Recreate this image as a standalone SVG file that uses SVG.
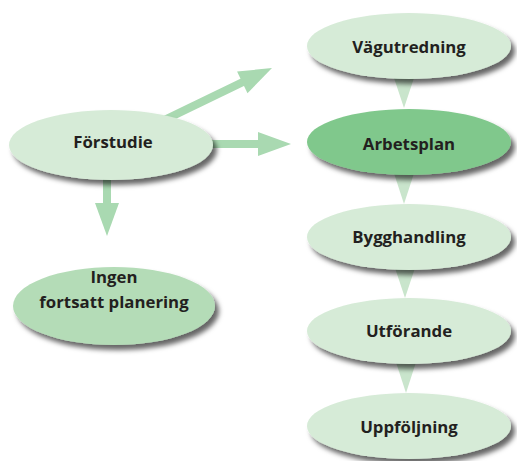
<svg xmlns="http://www.w3.org/2000/svg" width="517" height="461" viewBox="0 0 517 461">
<defs>
<filter id="sh" x="-20%" y="-30%" width="150%" height="180%">
<feDropShadow dx="4" dy="5" stdDeviation="2.8" flood-color="#000" flood-opacity="0.6"/>
</filter>
<style>
.lt{fill:#d6ebd7;filter:url(#sh)}
.dk{fill:#80c88c;filter:url(#sh)}
.md{fill:#b4dcb7;filter:url(#sh)}
.tri{fill:#c9e5cc}
.arr{fill:#a9d9b1}
text{font-family:"Open Sans","Noto Sans","DejaVu Sans",sans-serif;font-weight:bold;font-size:16.8px;fill:#231f20;text-anchor:middle}
</style>
</defs>
<rect width="517" height="461" fill="#fff"/>
<g id="connectors">
<polygon class="tri" points="390,66 418,66 404,108"/>
<polygon class="tri" points="390,161 418,161 404,204"/>
<polygon class="tri" points="391,256 419,256 405,298"/>
<polygon class="tri" points="392,350 420,350 406,393"/>
<g class="arr" transform="translate(291,144)"><rect x="-95" y="-4" width="63" height="8"/><polygon points="-33,-12 0,0 -33,12"/></g>
<g class="arr" transform="translate(107,236) rotate(90)"><rect x="-70" y="-4" width="38" height="8"/><polygon points="-33,-12 0,0 -33,12"/></g>
<g class="arr" transform="translate(272,68) rotate(-25.8)"><rect x="-125" y="-4" width="93" height="8"/><polygon points="-33,-12 0,0 -33,12"/></g>
</g>
<g id="forstudie"><ellipse class="lt" cx="111" cy="145" rx="102" ry="35"/><text x="113" y="148">Förstudie</text></g>
<g id="ingen"><ellipse class="md" cx="114" cy="306" rx="101" ry="39"/><text x="114" y="283">Ingen</text><text x="114" y="308">fortsatt planering</text></g>
<g id="vagutredning"><ellipse class="lt" cx="409" cy="46" rx="102" ry="33"/><text x="409" y="53">Vägutredning</text></g>
<g id="arbetsplan"><ellipse class="dk" cx="409" cy="142" rx="102" ry="33"/><text x="409" y="150">Arbetsplan</text></g>
<g id="bygghandling"><ellipse class="lt" cx="409" cy="237" rx="102" ry="33"/><text x="409" y="243">Bygghandling</text></g>
<g id="utforande"><ellipse class="lt" cx="409" cy="331" rx="102" ry="33"/><text x="409" y="337">Utförande</text></g>
<g id="uppfoljning"><ellipse class="lt" cx="409" cy="426" rx="102" ry="33"/><text x="409" y="433">Uppföljning</text></g>
</svg>
